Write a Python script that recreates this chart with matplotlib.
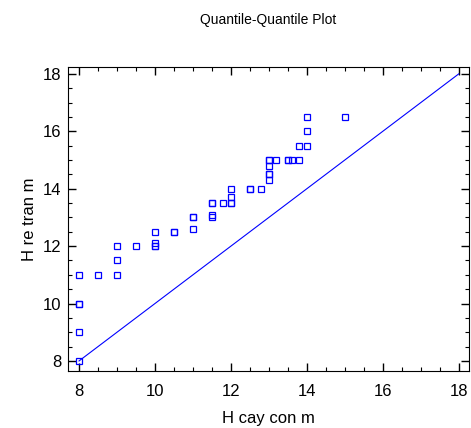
import matplotlib.pyplot as plt

plt.rcParams['font.family'] = ['Liberation Sans', 'DejaVu Sans']

# sample quantiles (duplicates where marks look darker)
h_cay_con = [8, 8, 8, 8, 8, 8.5, 9, 9, 9, 9.5, 10, 10, 10, 10, 10.5, 10.5,
             11, 11, 11, 11.5, 11.5, 11.5, 11.5, 11.8, 12, 12, 12, 12,
             12.5, 12.5, 12.8, 13, 13, 13, 13, 13, 13, 13.2, 13.5, 13.5,
             13.6, 13.8, 13.8, 14, 14, 14, 15]
h_re_tran = [8, 9, 10, 10, 11, 11, 11, 11.5, 12, 12, 12, 12, 12.1, 12.5, 12.5, 12.5,
             12.6, 13, 13, 13, 13.1, 13.5, 13.5, 13.5, 13.5, 13.5, 13.7, 14,
             14, 14, 14, 14.3, 14.5, 14.5, 14.8, 15, 15, 15, 15, 15,
             15, 15, 15.5, 15.5, 16, 16.5, 16.5]
ref_line = [8, 18]

fig = plt.figure(figsize=(4.71, 4.28), dpi=100)
ax = fig.add_axes([68 / 471, 1 - 371 / 428, 401 / 471, 304 / 428])

ax.plot(ref_line, ref_line, color='#0000ff', lw=0.8)
ax.plot(h_cay_con, h_re_tran, 's', ms=3.8, mfc='none', mec='#0000ff', mew=0.9)

ax.set_xlim(7.71, 18.27)
ax.set_ylim(7.65, 18.24)
ax.set_xticks([8, 10, 12, 14, 16, 18])
ax.set_yticks([8, 10, 12, 14, 16, 18])
ax.set_xticks([x / 2 for x in range(16, 37)], minor=True)
ax.set_yticks([x / 2 for x in range(16, 37)], minor=True)
ax.tick_params(which='both', direction='in', top=True, right=True, labelsize=12)
ax.tick_params(which='major', length=6, width=1)
ax.tick_params(which='minor', length=3, width=0.8)
ax.tick_params(axis='x', which='major', pad=9)
ax.tick_params(axis='y', which='major', pad=5)

ax.set_xlabel('H cay con m', fontsize=12, labelpad=9)
ax.set_ylabel('H re tran m', fontsize=12, labelpad=4)
fig.text(268 / 471, 1 - 20 / 428, 'Quantile-Quantile Plot', ha='center', va='center', fontsize=10)

plt.savefig('out.png', dpi=100)
